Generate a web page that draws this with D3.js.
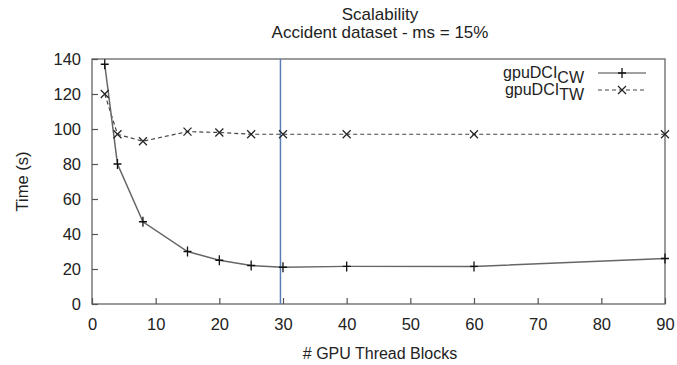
<!DOCTYPE html>
<html>
<head>
<meta charset="utf-8">
<script src="https://cdn.jsdelivr.net/npm/d3@7"></script>
<style>
body { margin: 0; background: #fff; }
text { font-family: "Liberation Sans", Arial, sans-serif; fill: #222; }
</style>
</head>
<body>
<script>
// thread blocks on x
var blocks = [2, 4, 8, 15, 20, 25, 30, 40, 60, 90];
var cwTimes = [137, 80, 47, 30, 25, 22, 21, 21.5, 21.5, 26];
var twTimes = [120, 97, 93, 98.5, 98, 97, 97, 97, 97, 97];
var xTicks = [0, 10, 20, 30, 40, 50, 60, 70, 80, 90];
var yTicks = [0, 20, 40, 60, 80, 100, 120, 140];
var markerX = 29.6;

var w = 677;
var h = 365;
var pLeft = 92, pRight = 665, pTop = 59, pBottom = 304;

var svg = d3.select("body")
	.append("svg")
	.attr("width", w)
	.attr("height", h);

var x = d3.scaleLinear().domain([0, 90]).range([pLeft, pRight]);
var y = d3.scaleLinear().domain([0, 140]).range([pBottom, pTop]);

// frame
svg.append("rect")
	.attr("x", pLeft)
	.attr("y", pTop)
	.attr("width", pRight - pLeft)
	.attr("height", pBottom - pTop)
	.attr("fill", "none")
	.attr("stroke", "#666")
	.attr("stroke-width", 1.3);

var xAxis = svg.append("g")
	.attr("transform", "translate(0," + pBottom + ")")
	.call(d3.axisBottom(x).tickValues(xTicks).tickSizeInner(-6).tickSizeOuter(0).tickPadding(14));
var yAxis = svg.append("g")
	.attr("transform", "translate(" + pLeft + ",0)")
	.call(d3.axisLeft(y).tickValues(yTicks).tickSizeInner(-6).tickSizeOuter(0).tickPadding(11));

[xAxis, yAxis].forEach(function(a) {
	a.select(".domain").remove();
	a.selectAll("line").attr("stroke", "#555").attr("stroke-width", 1.2);
	a.selectAll("text").style("font-size", "16.5px").style("font-family", "Liberation Sans, Arial, sans-serif").attr("fill", "#222");
});

// vertical marker line
svg.append("line")
	.attr("x1", x(markerX))
	.attr("x2", x(markerX))
	.attr("y1", pTop)
	.attr("y2", pBottom)
	.attr("stroke", "#5a7db5")
	.attr("stroke-width", 1.5);

var cwData = blocks.map(function(d, i) { return [d, cwTimes[i]]; });
var twData = blocks.map(function(d, i) { return [d, twTimes[i]]; });

var line = d3.line()
	.x(function(d) { return x(d[0]); })
	.y(function(d) { return y(d[1]); });

svg.append("path")
	.datum(twData)
	.attr("d", line)
	.attr("fill", "none")
	.attr("stroke", "#444")
	.attr("stroke-width", 1.2)
	.attr("stroke-dasharray", "4,3");

svg.append("path")
	.datum(cwData)
	.attr("d", line)
	.attr("fill", "none")
	.attr("stroke", "#666")
	.attr("stroke-width", 1.5);

function plus(g, cx, cy) {
	g.append("path")
		.attr("d", "M" + (cx - 4) + "," + cy + "H" + (cx + 4) + "M" + cx + "," + (cy - 5) + "V" + (cy + 5))
		.attr("stroke", "#111")
		.attr("stroke-width", 1.3)
		.attr("fill", "none");
}
function cross(g, cx, cy) {
	g.append("path")
		.attr("d", "M" + (cx - 4) + "," + (cy - 4) + "L" + (cx + 4) + "," + (cy + 4) + "M" + (cx - 4) + "," + (cy + 4) + "L" + (cx + 4) + "," + (cy - 4))
		.attr("stroke", "#222")
		.attr("stroke-width", 1.2)
		.attr("fill", "none");
}

var marks = svg.append("g");
cwData.forEach(function(d) { plus(marks, x(d[0]), y(d[1])); });
twData.forEach(function(d) { cross(marks, x(d[0]), y(d[1])); });

// legend
var legend = [
	{ name: "CW", dash: null, mark: plus, y: 73 },
	{ name: "TW", dash: "4,3", mark: cross, y: 90 }
];
legend.forEach(function(l) {
	var t = svg.append("text")
		.attr("x", 584)
		.attr("y", l.y + 5)
		.attr("text-anchor", "end")
		.style("font-size", "16px");
	t.append("tspan").text("gpuDCI");
	t.append("tspan").attr("dy", 5).style("font-size", "16px").text(l.name);
	svg.append("line")
		.attr("x1", 598).attr("x2", 646)
		.attr("y1", l.y).attr("y2", l.y)
		.attr("stroke", "#444")
		.attr("stroke-width", 1.2)
		.attr("stroke-dasharray", l.dash);
	l.mark(svg, 622, l.y);
});

// titles
svg.append("text")
	.attr("x", 380).attr("y", 20)
	.attr("text-anchor", "middle")
	.style("font-size", "17px")
	.text("Scalability");
svg.append("text")
	.attr("x", 380).attr("y", 38)
	.attr("text-anchor", "middle")
	.style("font-size", "17px")
	.text("Accident dataset - ms = 15%");

svg.append("text")
	.attr("x", 380).attr("y", 359)
	.attr("text-anchor", "middle")
	.style("font-size", "16px")
	.text("# GPU Thread Blocks");

svg.append("text")
	.attr("transform", "translate(28," + ((pTop + pBottom) / 2) + ") rotate(-90)")
	.attr("text-anchor", "middle")
	.style("font-size", "16.5px")
	.text("Time (s)");
</script>
</body>
</html>
